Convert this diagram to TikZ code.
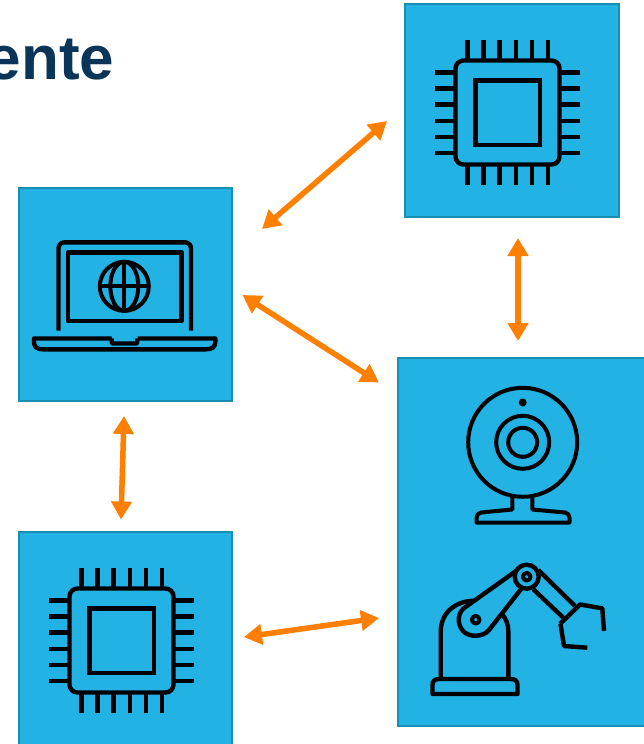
\documentclass[tikz,border=0pt]{standalone}
\usepackage{fontspec}
\setmainfont{Liberation Sans}
\usetikzlibrary{arrows.meta}
\definecolor{boxfill}{HTML}{22B2E4}
\definecolor{boxedge}{HTML}{1A8DB3}
\definecolor{linkorange}{HTML}{FF7F00}
\definecolor{titlenavy}{HTML}{0B3558}
\tikzset{
  panel/.style={rectangle,fill=boxfill,draw=boxedge,line width=2pt,inner sep=0pt,outer sep=0pt},
  icon/.style={draw=black,line width=4.4pt,line join=round},
  thinicon/.style={draw=black,line width=4pt,line join=round},
  link/.style={draw=linkorange,line width=5.5pt,{Triangle[length=18pt,width=20pt]}-{Triangle[length=18pt,width=20pt]}},
  pics/chipicon/.style={code={
    \draw[icon,rounded corners=8pt] (-52,-52) rectangle (52,52);
    \draw[icon,line join=miter] (-32.2,-32.2) rectangle (32.2,32.2);
    \foreach \p in {-40.2,-24.2,-8.2,8.2,24.2,40.2}{
      \draw[icon] (\p,-72.3) -- (\p,-53);
      \draw[icon] (\p,53) -- (\p,72.3);
      \draw[icon] (-72.3,\p) -- (-53,\p);
      \draw[icon] (53,\p) -- (72.3,\p);
    }
  }}
}
\begin{document}
\begin{tikzpicture}[x=1pt,y=-1pt]
\useasboundingbox (0,0) rectangle (644,744);
\fill[white] (0,0) rectangle (644,744);
\node[anchor=base east,inner sep=0pt,font=\bfseries\fontsize{62pt}{64pt}\selectfont,text=titlenavy] (title) at (114.5,79) {ente};
% panels
\node[panel,minimum width=213.5pt,minimum height=212.5pt] (laptop) at (125.25,294.5) {};
\node[panel,minimum width=214pt,minimum height=213pt] (chipa) at (512,110.5) {};
\node[panel,minimum width=213.5pt,minimum height=221pt] (chipb) at (125.25,642) {};
\node[panel,minimum width=256pt,minimum height=368pt] (cell) at (526,542) {};
% chips
\pic at (507.5,112.5) {chipicon};
\pic at (121.5,640.5) {chipicon};
% laptop
\draw[icon,rounded corners=6pt] (58.5,330.7) -- (58.5,242.3) -- (191,242.3) -- (191,330.7);
\draw[icon] (68,252.5) rectangle (181.5,321);
\draw[thinicon] (124.3,286.3) circle[radius=24.5pt];
\draw[thinicon] (124.3,286.3) ellipse[x radius=14pt,y radius=24.5pt];
\draw[thinicon] (124.3,262) -- (124.3,310.5);
\draw[thinicon] (100,286.3) -- (148.5,286.3);
\draw[icon] (111.5,338.5) -- (34,338.5) -- (34,342) .. controls (34,347) and (37,349.3) .. (43,349.3) -- (206,349.3) .. controls (212,349.3) and (215.3,347) .. (215.3,342) -- (215.3,338.5) -- (137.5,338.5);
\draw[icon] (111.5,338.5) -- (112,343.5) -- (137,343.5) -- (137.5,338.5);
% webcam
\draw[thinicon] (522.7,442.3) circle[radius=54.5pt];
\draw[thinicon] (522.7,442.3) circle[radius=26.5pt];
\draw[thinicon] (522.7,442.3) circle[radius=14.5pt];
\fill[black] (522.7,402.5) circle[radius=4pt];
\draw[thinicon] (512.3,496) -- (512.3,509.5) -- (481,512.5) .. controls (478,513) and (476.5,515) .. (476.5,518) -- (476.5,522.5) -- (569.5,522.5) -- (569.5,518) .. controls (569.5,515) and (568,513) .. (565,512.5) -- (532.3,509.5) -- (532.3,496);
% robot
\draw[icon] (432.5,694) -- (432.5,685) .. controls (432.5,681) and (435,679) .. (439,679) -- (511,679) .. controls (515,679) and (517.5,681) .. (517.5,685) -- (517.5,694) -- cycle;
\draw[icon] (440.7,679) -- (440.7,632) .. controls (440.7,613) and (455,600.7) .. (475,600.7);
\draw[icon] (508.3,679) -- (508.3,631) .. controls (508.3,624) and (506,619) .. (502,614);
\draw[icon,fill=boxfill] (516.7,570.5) -- (465.5,607) .. controls (457.5,612) and (456.7,623.6) .. (462.8,630.7) .. controls (468.9,637.8) and (483.2,637.3) .. (489,630) -- (521.7,588.3);
\draw[icon,fill=boxfill] (526.7,576.7) circle[radius=12pt];
\draw[thinicon] (526.7,576.7) circle[radius=3.8pt];
\draw[thinicon] (475.7,619.7) circle[radius=3.8pt];
\draw[icon] (538.3,570) -- (575,606);
\draw[icon] (533.3,589.3) -- (565,619.3);
\draw[icon] (560,624) -- (580,604.5) -- (602.3,608.3) -- (604,631);
\draw[icon] (587.3,647.7) -- (564,646) -- (560.5,624);
% connectors
\coordinate (la) at (262,229);
\coordinate (ca) at (387,121);
\coordinate (cb) at (518,238);
\coordinate (cc) at (518,341);
\coordinate (lb) at (242.5,295);
\coordinate (cd) at (379,382.5);
\coordinate (lc) at (124,416);
\coordinate (ba) at (121,519.5);
\coordinate (bb) at (244,637);
\coordinate (ce) at (379,618);
\draw[link] (la) -- (ca);
\draw[link] (cb) -- (cc);
\draw[link] (lb) -- (cd);
\draw[link] (lc) -- (ba);
\draw[link] (bb) -- (ce);
\end{tikzpicture}
\end{document}
